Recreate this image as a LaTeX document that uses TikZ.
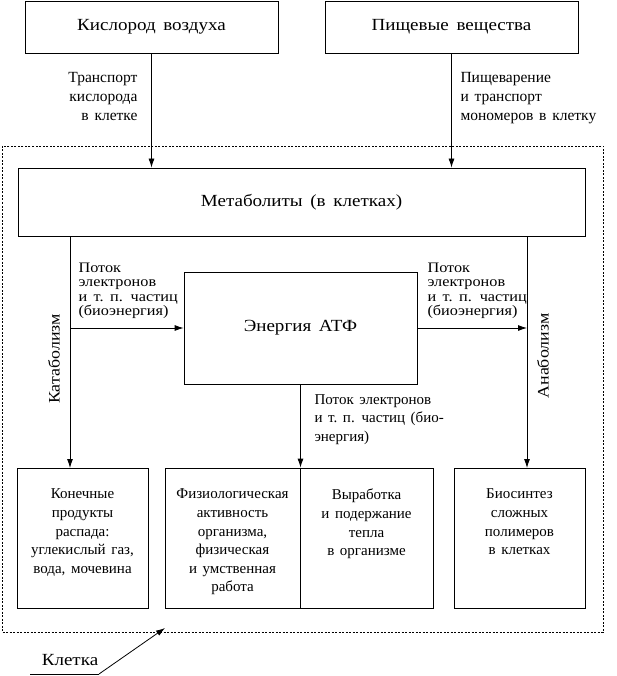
\documentclass[tikz,border=0pt]{standalone}
\usepackage{fontspec}
\setmainfont{Liberation Serif}[WordSpace=1.5]
\newfontfamily\wfont{Liberation Serif}[FakeStretch=1.12,WordSpace=1.6]
\usetikzlibrary{arrows.meta}
\begin{document}
\begin{tikzpicture}[x=1pt,y=-1pt,
  box/.style={draw,line width=0.8pt,inner sep=0pt,anchor=center},
  arr/.style={line width=0.8pt,-{Latex[length=9pt,width=6pt]}},
  ln/.style={line width=0.8pt},
  big/.style={font=\wfont\fontsize{17}{21}\selectfont},
  rot/.style={font=\wfont\fontsize{16}{19}\selectfont,rotate=90},
  mid/.style={font=\fontsize{15.5}{19}\selectfont},
  low/.style={font=\fontsize{15}{18.5}\selectfont},
  sml/.style={font=\wfont\fontsize{14.5}{14.6}\selectfont},
  btxt/.style={font=\fontsize{15}{18.6}\selectfont,align=center,anchor=north}]
\useasboundingbox (0,0) rectangle (616,676);
% dashed cell
\draw[line width=0.7pt,dash pattern=on 2pt off 1.5pt] (2,146) rectangle (603,632);
% boxes
\node[box,minimum width=253pt,minimum height=52pt,big] (tl) at (151.5,27) {Кислород воздуха};
\node[box,minimum width=253pt,minimum height=52pt,big] (tr) at (451.5,27) {Пищевые вещества};
\node[box,fill=white,minimum width=567pt,minimum height=68pt,big] (met) at (301.5,202) {Метаболиты (в клетках)};
\node[box,minimum width=233pt,minimum height=112pt,big] (en) at (300.5,328) {Энергия АТФ};
\node[box,minimum width=131pt,minimum height=140pt] (b1) at (82.5,538) {};
\node[box,minimum width=135pt,minimum height=140pt] (b2) at (232.5,538) {};
\node[box,minimum width=133pt,minimum height=140pt] (b3) at (366.5,538) {};
\node[box,minimum width=131pt,minimum height=140pt] (b4) at (519.5,538) {};
% box texts
\node[btxt] (t1) at ([yshift=-18pt]b1.north) {Конечные\\продукты\\распада:\\углекислый газ,\\вода, мочевина};
\node[btxt] (t2) at ([yshift=-18pt]b2.north) {Физиологическая\\активность\\организма,\\физическая\\и умственная\\работа};
\node[btxt] (t3) at ([yshift=-18pt]b3.north) {Выработка\\и подержание\\тепла\\в организме};
\node[btxt] (t4) at ([yshift=-18pt]b4.north) {Биосинтез\\сложных\\полимеров\\в клетках};
% arrows top
\draw[arr] (tl.south) -- (tl.south |- met.north);
\draw[arr] (tr.south) -- (tr.south |- met.north);
\node[mid,align=right,anchor=north east] (l1) at (141,69) {Транспорт\\кислорода\\в клетке};
\node[mid,align=left,anchor=north west] (l2) at (457,69) {Пищеварение\\и транспорт\\мономеров в клетку};
% catabolism / anabolism
\coordinate (ca) at (70,236);
\coordinate (cb) at (70,468);
\coordinate (cm) at (70,328);
\coordinate (aa) at (527,236);
\coordinate (ab) at (527,468);
\coordinate (am) at (527,328);
\draw[arr] (ca) -- (cb);
\draw[arr] (aa) -- (ab);
\draw[arr] (cm) -- (en.west);
\draw[arr] (en.east) -- (am);
\draw[arr] (en.south) -- (en.south |- b2.north);
\node[rot] (kat) at (54,359) {Катаболизм};
\node[rot] (ana) at (543,356) {Анаболизм};
\node[sml,align=left,anchor=north west] (p1) at (75,259) {Поток\\электронов\\и т.~п. частиц\\(биоэнергия)};
\node[sml,align=left,anchor=north west] (p2) at (424,259) {Поток\\электронов\\и т.~п. частиц\\(биоэнергия)};
\node[low,align=left,anchor=north west] (p3) at (311,391) {Поток электронов\\и т.~п. частиц (био-\\энергия)};
% cell label
\node[big] (kl) at (70,660) {Клетка};
\coordinate (u1) at (30,674);
\coordinate (u2) at (99,674);
\coordinate (u3) at (165,628);
\draw[ln] (u1) -- (u2);
\draw[line width=0.8pt,-{Latex[length=9pt,width=6pt]}] (u2) -- (u3);
\end{tikzpicture}
\end{document}
